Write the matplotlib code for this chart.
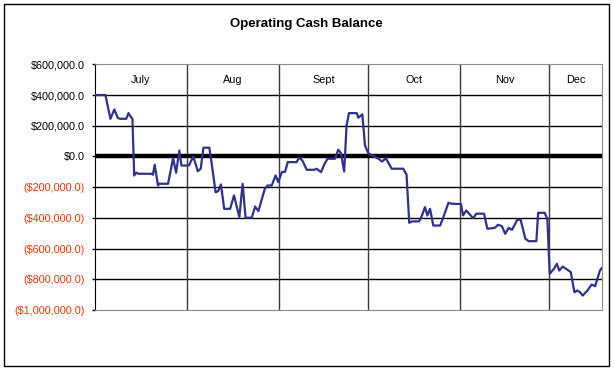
import matplotlib
matplotlib.use("Agg")
import matplotlib.pyplot as plt
from matplotlib.patches import Rectangle
from matplotlib.ticker import FuncFormatter

plt.rcParams['font.family'] = ['Liberation Sans', 'DejaVu Sans']

# day index counted from 1 July, cash balance in dollars
days = [0, 3.5, 5.2, 6.5, 7.7, 8.5, 10.5, 11.3, 12.1, 12.6, 13.2, 13.9, 14.7, 19.0, 19.5,
        20.1, 21.2, 21.6, 24.6, 26.3, 27.3, 28.4, 29.1, 31.6, 33.1, 34.6, 35.6, 36.5, 38.5,
        39.3, 40.6, 41.5, 42.4, 43.5, 45.5, 46.8, 48.6, 49.7, 50.7, 52.8, 53.9, 55.0, 57.2,
        58.1, 59.5, 60.8, 61.7, 62.9, 64.0, 64.9, 67.9, 68.7, 69.8, 71.3, 73.8, 74.6, 76.1,
        77.4, 78.3, 80.8, 81.9, 82.8, 83.9, 84.7, 85.5, 88.1, 88.7, 90.0, 90.9, 92.0, 95.4,
        96.7, 97.9, 99.9, 103.8, 104.9, 105.8, 106.8, 109.1, 110.0, 111.1, 111.9, 112.8,
        113.9, 116.2, 117.3, 119.0, 120.1, 123.2, 123.9, 125.0, 127.3, 128.4, 131.0, 132.1,
        134.6, 135.7, 137.0, 138.1, 139.3, 140.4, 142.2, 143.3, 144.9, 146.0, 148.6, 149.2,
        151.4, 152.3, 153.1, 154.5, 155.5, 156.3, 157.5, 158.6, 160.2, 161.4, 162.4, 163.3,
        164.2, 165.8, 167.2, 168.4, 170.0, 170.6]
balance = [400000, 400000, 245000, 306000, 250000, 245000, 245000, 282000, 256000, 245000,
           -124000, -106000, -113000, -113000, -119000, -54000, -189000, -178000, -178000,
           -11000, -106000, 39000, -59000, -59000, 0, -96000, -80000, 57000, 57000, -48000,
           -233000, -226000, -182000, -341000, -341000, -254000, -395000, -178000, -399000,
           -399000, -326000, -356000, -210000, -189000, -189000, -124000, -167000, -102000,
           -100000, -37000, -37000, -8000, -26000, -87000, -87000, -80000, -102000, -44000,
           -15000, -15000, 44000, 21000, -98000, 202000, 282000, 282000, 252000, 274000, 72000,
           21000, -15000, -33000, -11000, -80000, -80000, -119000, -432000, -423000, -423000,
           -389000, -330000, -384000, -341000, -450000, -450000, -395000, -302000, -308000,
           -310000, -384000, -352000, -402000, -373000, -373000, -471000, -465000, -445000,
           -454000, -504000, -465000, -478000, -412000, -412000, -536000, -552000, -552000,
           -367000, -367000, -406000, -764000, -732000, -699000, -743000, -717000, -732000,
           -754000, -884000, -873000, -884000, -906000, -873000, -834000, -845000, -743000,
           -728000]

months = ["July", "Aug", "Sept", "Oct", "Nov", "Dec"]
month_starts = [0, 31, 62, 92, 123, 153]
x_end = 170.7

fig = plt.figure(figsize=(6.14, 3.74), dpi=100)
fig.patches.append(Rectangle((4 / 614, 8 / 374), 605 / 614, 362 / 374, transform=fig.transFigure,
                             fill=False, edgecolor="black", linewidth=1))
ax = fig.add_axes([95 / 614, 1 - 310 / 374, 507 / 614, 245.7 / 374])

ax.set_xlim(0, x_end)
ax.set_ylim(-1000000, 600000)
ax.set_yticks(range(-1000000, 600001, 200000))
for v in range(-800000, 400001, 200000):
    ax.axhline(v, color="black", linewidth=1, zorder=1)
ax.axhline(0, color="black", linewidth=3.2, zorder=3)

for s in month_starts[1:]:
    ax.axvline(s, color="#3a3a3a", linewidth=1, zorder=1)

ends = month_starts[1:] + [x_end]
for name, a, b in zip(months, month_starts, ends):
    ax.text((a + b) / 2, 500000, name, ha="center", va="center", fontsize=7.8)

ax.plot(days, balance, color="#2E3192", linewidth=1.6, zorder=4)


def money(v, pos):
    if v < 0:
        return "(${:,.1f})".format(-v)
    return "${:,.1f}".format(v)


ax.yaxis.set_major_formatter(FuncFormatter(money))
ax.tick_params(axis="y", labelsize=7.8, length=2.5, width=1, pad=5)
ax.set_xticks([])
for lab, v in zip(ax.get_yticklabels(), ax.get_yticks()):
    if v < 0:
        lab.set_color("#FF3300")

for side in ["top", "right", "bottom"]:
    ax.spines[side].set_color("#8c8c8c")
ax.spines["left"].set_color("black")

fig.text(306 / 614, 1 - 24 / 374, "Operating Cash Balance", ha="center", va="center",
         fontsize=9.5, fontweight="bold")

fig.savefig("out.png", dpi=100)
